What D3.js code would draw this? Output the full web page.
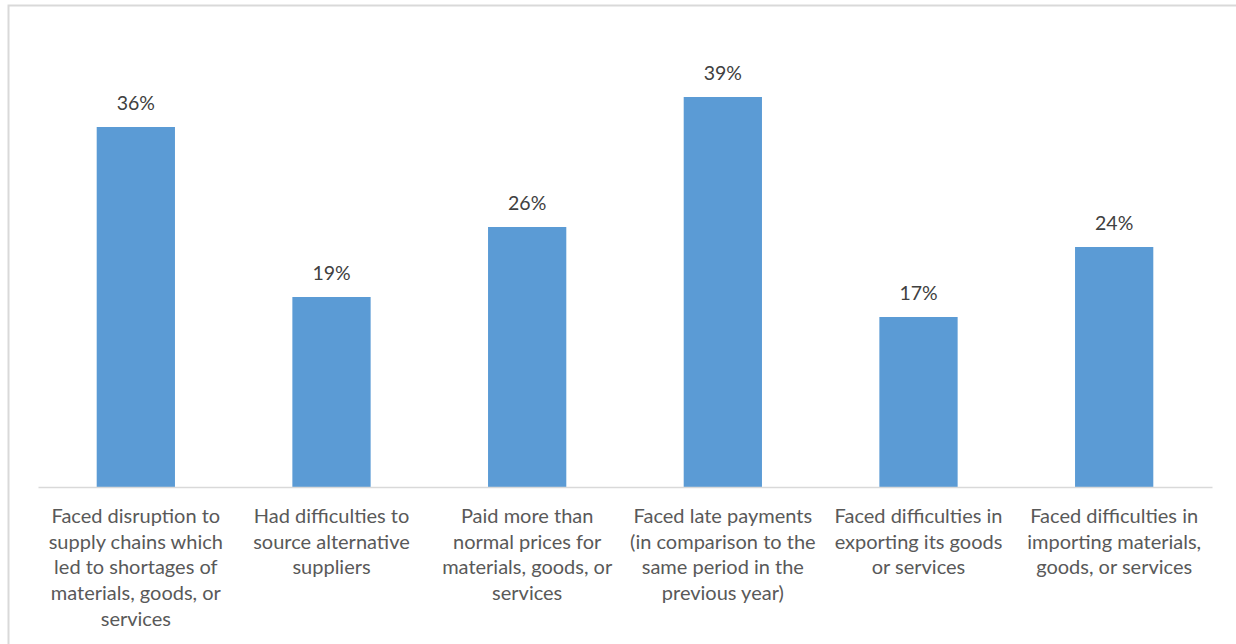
<!DOCTYPE html>
<html>
<head>
<meta charset="utf-8">
<script src="https://cdn.jsdelivr.net/npm/d3@7"></script>
<style>
  html, body { margin: 0; padding: 0; background: #fff; }
  svg { display: block; }
</style>
</head>
<body>
<svg id="chart" width="1236" height="644"></svg>
<script>
// Category labels (line breaks as they wrap under each bar)
const categories = [
  "Faced disruption to\nsupply chains which\nled to shortages of\nmaterials, goods, or\nservices",
  "Had difficulties to\nsource alternative\nsuppliers",
  "Paid more than\nnormal prices for\nmaterials, goods, or\nservices",
  "Faced late payments\n(in comparison to the\nsame period in the\nprevious year)",
  "Faced difficulties in\nexporting its goods\nor services",
  "Faced difficulties in\nimporting materials,\ngoods, or services"
];
// Share of businesses, in percent
const values = [36, 19, 26, 39, 17, 24];

const svg = d3.select("#chart");
const fontFamily = "Lato, 'Open Sans', sans-serif";

// Chart area frame
svg.append("rect")
  .attr("x", 8.5).attr("y", 5.5)
  .attr("width", 1240).attr("height", 660)
  .attr("fill", "none")
  .attr("stroke", "#d9d9d9")
  .attr("stroke-width", 2);

const plot = { left: 38, right: 1212, top: 40, bottom: 487 };

const x = d3.scaleBand()
  .domain(categories)
  .range([plot.left, plot.right])
  .paddingInner(0.6)
  .paddingOuter(0.3);

const y = d3.scaleLinear()
  .domain([0, 44.7])
  .range([plot.bottom, plot.top]);

// Bars
svg.append("g")
  .selectAll("rect")
  .data(values)
  .join("rect")
  .attr("x", (d, i) => x(categories[i]))
  .attr("y", d => y(d))
  .attr("width", x.bandwidth())
  .attr("height", d => y(0) - y(d))
  .attr("fill", "#5b9bd5");

// Value labels
svg.append("g")
  .selectAll("text")
  .data(values)
  .join("text")
  .attr("x", (d, i) => x(categories[i]) + x.bandwidth() / 2)
  .attr("y", d => y(d) - 17)
  .attr("text-anchor", "middle")
  .attr("font-family", fontFamily)
  .attr("font-size", 19.5)
  .attr("fill", "#404040")
  .text(d => d + "%");

// Category axis
const axis = svg.append("g")
  .attr("transform", `translate(0,${plot.bottom})`)
  .call(d3.axisBottom(x).tickSize(0).tickFormat(""));
axis.select(".domain")
  .attr("stroke", "#d9d9d9")
  .attr("stroke-width", 1.5);

axis.selectAll(".tick").each(function(d) {
  const t = d3.select(this).select("text")
    .attr("y", 0)
    .attr("dy", 0)
    .attr("font-family", fontFamily)
    .attr("font-size", 20)
    .attr("fill", "#595959")
    .text(null);
  d.split("\n").forEach((line, k) => {
    t.append("tspan")
      .attr("x", 0)
      .attr("y", 36 + k * 25.7)
      .text(line);
  });
});
</script>
</body>
</html>
